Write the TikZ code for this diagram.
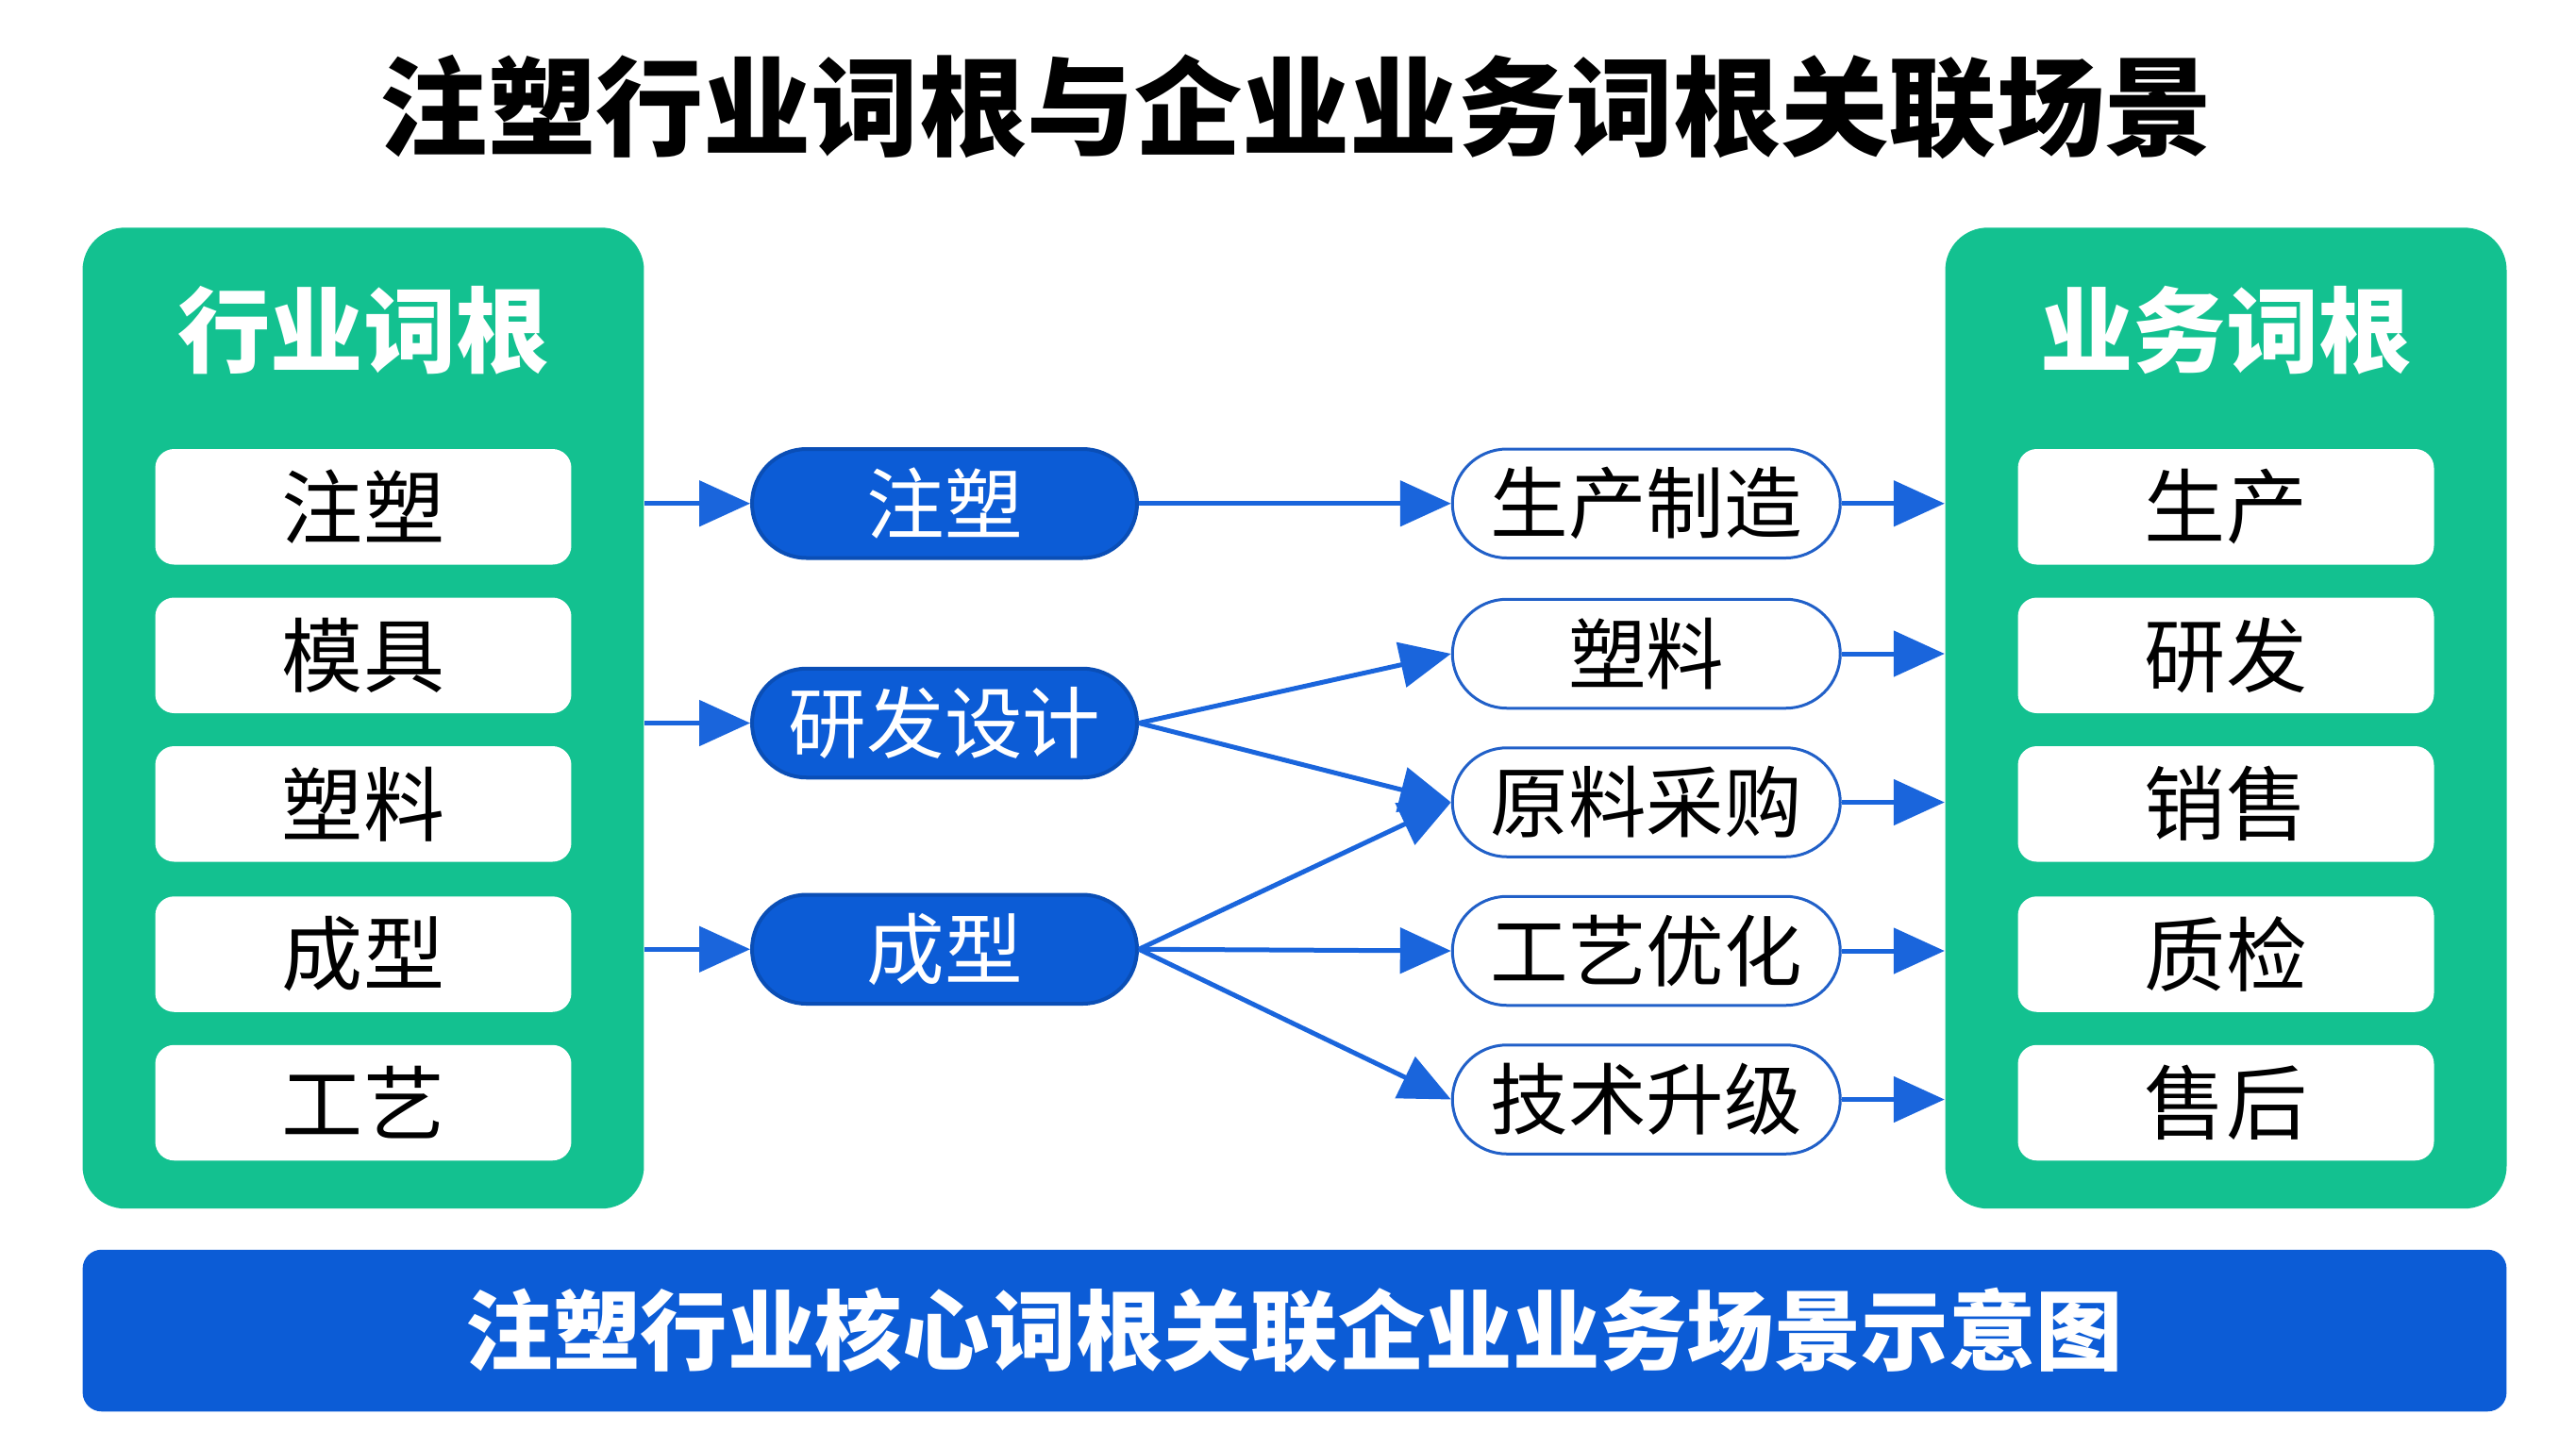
\documentclass[tikz,border=0pt]{standalone}
\usepackage{fontspec}
\newfontfamily\cjk{Noto Sans CJK SC}
\usetikzlibrary{arrows.meta,positioning}
\definecolor{panelgreen}{HTML}{13C190}
\definecolor{pillblue}{HTML}{0C5CD6}
\definecolor{arrowblue}{HTML}{1A65DC}
\definecolor{ringblue}{HTML}{2160C8}
\tikzset{
	panel/.style={fill=panelgreen, rounded corners=0.45cm, minimum width=5.95cm, minimum height=10.4cm, inner sep=0pt},
	rootbox/.style={fill=white, rounded corners=0.2cm, minimum width=4.41cm, minimum height=1.225cm, font=\cjk\fontsize{24.5}{28}\selectfont},
	keypill/.style={fill=pillblue, draw=pillblue!85!black, line width=0.4mm, rounded corners=0.577cm, minimum width=4.08cm, minimum height=1.155cm, inner sep=0pt, text=white, font=\cjk\fontsize{23.5}{28}\selectfont},
	scenepill/.style={fill=white, draw=ringblue, line width=0.3mm, rounded corners=0.577cm, minimum width=4.11cm, minimum height=1.155cm, inner sep=0pt, font=\cjk\fontsize{23.5}{28}\selectfont},
	link/.style={draw=arrowblue, line width=0.5mm, -{Triangle[length=0.54cm,width=0.48cm]}},
}
\begin{document}
\begin{tikzpicture}[x=0.0175cm, y=-0.0175cm]
		%%%%% START %%%%%
		\useasboundingbox (0, 0) rectangle (1560, 877);
		
		\node[font=\cjk\bfseries\fontsize{32.5}{36}\selectfont] (title) at (785, 65) {注塑行业词根与企业业务词根关联场景};
		
		\node[panel] (lpanel) at (220, 435) {};
		\node[panel] (rpanel) at (1348, 435) {};
		\node[text=white, font=\cjk\bfseries\fontsize{28}{32}\selectfont] (lhead) at (220, 200) {行业词根};
		\node[text=white, font=\cjk\bfseries\fontsize{28}{32}\selectfont] (rhead) at (1348, 200) {业务词根};
		
		\node[rootbox] (ind1) at (220, 307) {注塑};
		\node[rootbox] (ind2) at (220, 397) {模具};
		\node[rootbox] (ind3) at (220, 487) {塑料};
		\node[rootbox] (ind4) at (220, 578) {成型};
		\node[rootbox] (ind5) at (220, 668) {工艺};
		
		\node[rootbox] (biz1) at (1348, 307) {生产};
		\node[rootbox] (biz2) at (1348, 397) {研发};
		\node[rootbox] (biz3) at (1348, 487) {销售};
		\node[rootbox] (biz4) at (1348, 578) {质检};
		\node[rootbox] (biz5) at (1348, 668) {售后};
		
		\node[keypill] (key1) at (572, 305) {注塑};
		\node[keypill] (key2) at (572, 438) {研发设计};
		\node[keypill] (key3) at (572, 575) {成型};
		
		\node[scenepill] (scene1) at (997, 305) {生产制造};
		\node[scenepill] (scene2) at (997, 396) {塑料};
		\node[scenepill] (scene3) at (997, 486) {原料采购};
		\node[scenepill] (scene4) at (997, 576) {工艺优化};
		\node[scenepill] (scene5) at (997, 666) {技术升级};
		
		\draw[link] (lpanel.east |- key1) -- (key1);
		\draw[link] (lpanel.east |- key2) -- (key2);
		\draw[link] (lpanel.east |- key3) -- (key3);
		
		\draw[link] (key1.east) -- (scene1.west);
		\draw[link] (key2.east) -- (scene2.west);
		\draw[link] (key2.east) -- (scene3.west);
		\draw[link] (key3.east) -- (scene3.west);
		\draw[link] (key3.east) -- (scene4.west);
		\draw[link] (key3.east) -- (scene5.west);
		
		\draw[link] (scene1) -- (rpanel.west |- scene1);
		\draw[link] (scene2) -- (rpanel.west |- scene2);
		\draw[link] (scene3) -- (rpanel.west |- scene3);
		\draw[link] (scene4) -- (rpanel.west |- scene4);
		\draw[link] (scene5) -- (rpanel.west |- scene5);
		
		\node[fill=pillblue, rounded corners=0.2cm, minimum width=25.69cm, minimum height=1.715cm, text=white, font=\cjk\bfseries\fontsize{26.3}{30}\selectfont] (footer) at (784, 806) {注塑行业核心词根关联企业业务场景示意图};
		%%%%% END %%%%%
\end{tikzpicture}
\end{document}
